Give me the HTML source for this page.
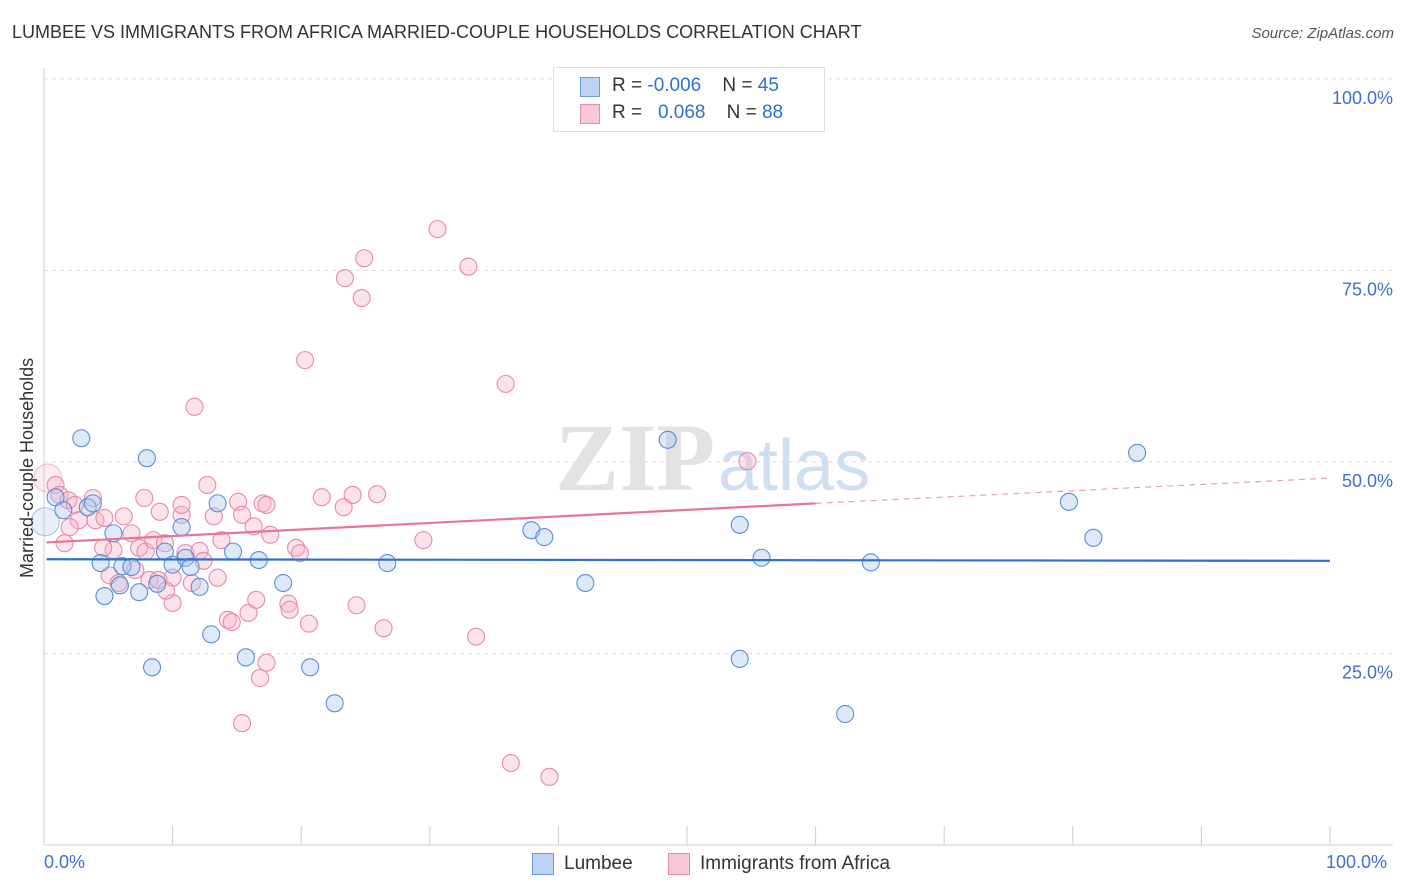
<!DOCTYPE html>
<html><head><meta charset="utf-8"><style>
body{margin:0;background:#fff;font-family:"Liberation Sans",sans-serif;}
#wrap{position:relative;width:1406px;height:892px;overflow:hidden;}
.t{position:absolute;white-space:nowrap;}
</style></head><body>
<div id="wrap">
<div class="t" style="left:12px;top:22px;font-size:18px;color:#333;">LUMBEE VS IMMIGRANTS FROM AFRICA MARRIED-COUPLE HOUSEHOLDS CORRELATION CHART</div>
<div class="t" style="right:12px;top:25px;font-size:15px;color:#555;font-style:italic;">Source: ZipAtlas.com</div>
<svg id="svg" width="1406" height="892" style="position:absolute;left:0;top:0;"></svg>
</div>
<script>
const blueX=[0.9,1.5,3.4,3.8,2.9,8.0,4.4,4.7,5.4,6.1,6.8,7.4,8.8,9.4,10.0,10.7,11.0,11.4,12.1,13.0,13.5,14.7,15.7,16.7,18.6,20.7,22.6,26.7,37.9,38.9,42.1,48.5,54.1,55.8,54.1,62.3,64.3,79.7,81.6,85.0,8.4,0.1,5.9];
const blueY=[45.4,43.7,44.1,44.6,53.1,50.5,36.8,32.5,40.7,36.4,36.3,33.0,34.1,38.3,36.6,41.5,37.5,36.3,33.7,27.5,44.6,38.3,24.5,37.2,34.2,23.2,18.5,36.8,41.1,40.2,34.2,52.9,41.8,37.5,24.3,17.1,36.9,44.8,40.1,51.2,23.2,42.2,33.9];
const pinkX=[30.6,33.0,24.9,23.4,24.7,20.3,35.9,11.7,54.7,0.3,0.9,1.2,1.9,2.4,3.8,2.7,4.0,4.7,5.4,6.2,6.8,7.4,7.9,8.5,9.0,9.4,10.0,10.7,10.7,11.0,11.5,12.1,12.4,12.7,13.2,13.5,13.8,14.3,14.6,15.1,15.4,15.9,16.3,16.5,17.0,17.3,17.6,17.3,16.8,15.4,19.0,19.1,19.6,19.9,20.6,21.6,23.3,24.0,25.9,24.3,26.4,29.5,33.6,36.3,39.3,1.6,2.0,4.6,5.1,5.8,7.1,8.2,10.0,8.9,9.5,7.8];
const pinkY=[80.4,75.5,76.6,74.0,71.4,63.3,60.2,57.2,50.1,47.9,47.0,45.7,45.0,44.4,45.3,42.4,42.4,42.7,38.5,42.9,40.7,38.8,38.3,39.8,43.5,39.4,34.9,43.1,44.4,38.1,34.2,38.4,37.1,47.0,42.9,34.9,39.8,29.4,29.1,44.8,43.1,30.3,41.6,32.0,44.6,44.4,40.5,23.8,21.8,15.9,31.5,30.7,38.8,38.1,28.9,45.4,44.1,45.7,45.8,31.3,28.3,39.8,27.2,10.7,8.9,39.4,41.5,38.8,35.2,34.2,35.9,34.6,31.6,34.6,33.2,45.3];
const yTicks=[25,50,75,100];
const blueTrend=[37.3,37.1];
const pinkTrend=[39.5,44.6,47.9];
const pinkSolidEnd=60;

const X=v=>44+v*12.86, Y=v=>845-v*7.66;
const svg=document.getElementById('svg');const NS='http://www.w3.org/2000/svg';
function mk(tag,a,name){const e=document.createElementNS(NS,tag);for(const k in a)e.setAttribute(k,a[k]);


svg.appendChild(e);return e;}
for(const t of yTicks){mk('line',{x1:44,x2:1393,y1:Y(t),y2:Y(t),stroke:'#ddd','stroke-dasharray':'4,4'},'gridline');
const tx=mk('text',{x:1393,y:Y(t)+25,'text-anchor':'end','font-size':18,fill:'#3d6fd0','font-family':'Liberation Sans'},'y-tick-label');tx.textContent=t.toFixed(1)+'%';}
mk('line',{x1:44,x2:44,y1:68,y2:845,stroke:'#ccc'},'y-axis');
mk('line',{x1:44,x2:1393,y1:845,y2:845,stroke:'#ccc'},'x-axis');
for(let i=0;i<=10;i++)mk('line',{x1:X(i*10),x2:X(i*10),y1:826,y2:845,stroke:'#ccc'},'x-tick');
let w=mk('text',{x:555,y:490,'font-size':96,fill:'#e2e2e2','font-family':'Liberation Serif','font-weight':'bold'},'watermark-zip');w.textContent='ZIP';
w=mk('text',{x:718,y:490,'font-size':72,fill:'#cfdff3','font-family':'Liberation Sans'},'watermark-atlas');w.textContent='atlas';
function dots(xs,ys,fill,stroke,name){xs.forEach((x,i)=>{const big=(x<0.5);mk('circle',{cx:X(x),cy:Y(ys[i]),r:big?14:8.5,fill:fill,'fill-opacity':big?0.25:0.38,stroke:stroke,'stroke-opacity':big?0.5:1,'stroke-width':1.1},name);});}
dots(pinkX,pinkY,'#f6b5ca','#e889a8','pink-point');
dots(blueX,blueY,'#a5c5ef','#5a8ed6','blue-point');
mk('line',{x1:X(0.2),x2:X(100),y1:Y(blueTrend[0]),y2:Y(blueTrend[1]),stroke:'#2f6fd0','stroke-width':2.2},'lumbee-trend-line');
mk('line',{x1:X(0.2),x2:X(pinkSolidEnd),y1:Y(pinkTrend[0]),y2:Y(pinkTrend[1]),stroke:'#e8739b','stroke-width':2.2},'africa-trend-line');
mk('line',{x1:X(pinkSolidEnd),x2:X(100),y1:Y(pinkTrend[1]),y2:Y(pinkTrend[2]),stroke:'#e8a0b8','stroke-width':1.2,'stroke-dasharray':'6,5'},'africa-trend-dashed');
</script>
<div class="t" style="left:44px;top:852px;font-size:18px;color:#3d6fd0;">0.0%</div>
<div class="t" style="left:1326px;top:852px;font-size:18px;color:#3d6fd0;">100.0%</div>
<div class="t" style="left:17px;top:578px;font-size:18px;color:#333;transform:rotate(-90deg);transform-origin:0 0;">Married-couple Households</div>
<div style="position:absolute;left:553px;top:67px;width:270px;height:63px;border:1px solid #ddd;background:#fff;font-size:19px;color:#333;">
<div style="position:absolute;left:26px;top:9px;width:18px;height:18px;background:#bcd4f4;border:1px solid #6d9ad8;"></div>
<div class="t" style="left:58px;top:7px;">R = <span style="color:#2f6fd0">-0.006</span>&nbsp;&nbsp;&nbsp; N = <span style="color:#2f6fd0">45</span></div>
<div style="position:absolute;left:26px;top:36px;width:18px;height:18px;background:#f9c8d8;border:1px solid #e48daa;"></div>
<div class="t" style="left:58px;top:34px;">R = &nbsp;&nbsp;<span style="color:#2f6fd0">0.068</span>&nbsp;&nbsp;&nbsp; N = <span style="color:#2f6fd0">88</span></div>
</div>
<div style="position:absolute;left:532px;top:853px;width:20px;height:20px;background:#bcd4f4;border:1px solid #6d9ad8;"></div>
<div class="t" style="left:564px;top:853px;font-size:19px;color:#333;">Lumbee</div>
<div style="position:absolute;left:668px;top:853px;width:20px;height:20px;background:#f9c8d8;border:1px solid #e48daa;"></div>
<div class="t" style="left:700px;top:853px;font-size:19px;color:#333;">Immigrants from Africa</div>
</body></html>
